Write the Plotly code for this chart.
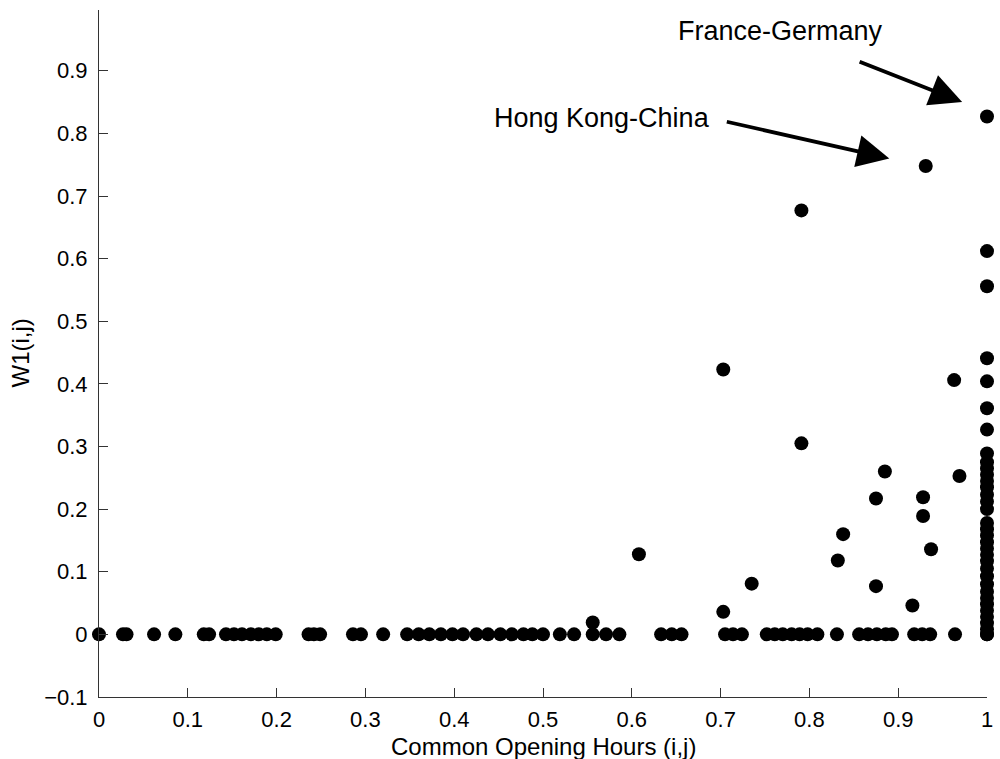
import plotly.graph_objects as go

# Points lying on W1 = 0 (common opening hours)
zero_x = [0.0, 0.027, 0.031, 0.062, 0.086, 0.118, 0.124, 0.143, 0.152, 0.161, 0.171,
          0.180, 0.189, 0.199, 0.236, 0.242, 0.249, 0.286, 0.295, 0.320,
          0.347, 0.360, 0.372, 0.385, 0.398, 0.410, 0.425, 0.438, 0.452, 0.465,
          0.478, 0.488, 0.500, 0.519, 0.535, 0.556, 0.571, 0.586, 0.633, 0.645,
          0.656, 0.705, 0.714, 0.724, 0.752, 0.761, 0.770, 0.780, 0.789, 0.798,
          0.809, 0.831, 0.856, 0.866, 0.876, 0.886, 0.893, 0.918, 0.927, 0.936,
          0.964, 1.0]

# Points with positive W1 off the x = 1 column
pos_x = [0.556, 0.608, 0.703, 0.703, 0.735, 0.791, 0.791, 0.832, 0.838, 0.875,
         0.875, 0.885, 0.916, 0.928, 0.928, 0.931, 0.937, 0.963, 0.969]
pos_y = [0.019, 0.128, 0.036, 0.423, 0.081, 0.677, 0.305, 0.118, 0.160, 0.217,
         0.077, 0.260, 0.046, 0.219, 0.189, 0.748, 0.136, 0.406, 0.253]

# Points at common opening hours = 1
full_y = [0.827, 0.612, 0.556, 0.441, 0.404, 0.361, 0.327, 0.289, 0.275, 0.265,
          0.255, 0.245, 0.235, 0.223, 0.212, 0.200, 0.178, 0.168, 0.158, 0.147,
          0.137, 0.127, 0.117, 0.105, 0.093, 0.080, 0.068, 0.058, 0.048, 0.038,
          0.028, 0.018, 0.008, 0.0]

x_ticks = [0, 0.1, 0.2, 0.3, 0.4, 0.5, 0.6, 0.7, 0.8, 0.9, 1]
x_tick_labels = ["0", "0.1", "0.2", "0.3", "0.4", "0.5", "0.6", "0.7", "0.8", "0.9", "1"]
y_ticks = [-0.1, 0, 0.1, 0.2, 0.3, 0.4, 0.5, 0.6, 0.7, 0.8, 0.9]
y_tick_labels = ["\u22120.1", "0", "0.1", "0.2", "0.3", "0.4", "0.5", "0.6", "0.7", "0.8", "0.9"]

all_x = zero_x + pos_x + [1.0] * len(full_y)
all_y = [0.0] * len(zero_x) + pos_y + full_y

FONT = "Liberation Sans, Arial, Helvetica, sans-serif"

fig = go.Figure()
fig.add_trace(go.Scatter(
    x=all_x, y=all_y, mode="markers",
    marker=dict(color="black", size=14, line=dict(width=0)),
    cliponaxis=False, showlegend=False,
))

axis_common = dict(
    showline=True, linecolor="#333333", linewidth=1,
    ticks="inside", ticklen=9, tickcolor="#333333", tickwidth=1,
    showgrid=False, zeroline=False, mirror=False,
    tickfont=dict(family=FONT, size=22, color="black"),
)

fig.update_xaxes(range=[0, 1], tickvals=x_ticks, ticktext=x_tick_labels,
                 ticklabelstandoff=3, **axis_common)
fig.update_yaxes(range=[-0.1, 0.997], tickvals=y_ticks, ticktext=y_tick_labels,
                 ticklabelstandoff=6, **axis_common)

ann_font = dict(family=FONT, size=27, color="black")
title_font = dict(family=FONT, size=24, color="black")
fig.update_layout(
    width=1000, height=759,
    margin=dict(l=99, r=7, t=10, b=62),
    paper_bgcolor="white", plot_bgcolor="white",
    annotations=[
        dict(text="Common Opening Hours (i,j)", xref="paper", yref="paper",
             x=0.5, y=0, yanchor="middle", yshift=-49, showarrow=False,
             font=title_font),
        dict(text="W1(i,j)", xref="paper", yref="paper", textangle=-90,
             x=0, y=0.5, xanchor="center", xshift=-79, showarrow=False,
             font=title_font),
        dict(text="France-Germany", x=0.768, y=0.963, showarrow=False,
             font=ann_font),
        dict(text="Hong Kong-China", x=0.566, y=0.824, showarrow=False,
             font=ann_font),
        dict(text="", x=0.972, y=0.850, ax=-104, ay=-41, showarrow=True,
             arrowhead=2, arrowsize=1.7, arrowwidth=3.8, arrowcolor="black"),
        dict(text="", x=0.890, y=0.760, ax=-164, ay=-37, showarrow=True,
             arrowhead=2, arrowsize=1.7, arrowwidth=3.8, arrowcolor="black"),
    ],
)

fig.write_html("out.html")
